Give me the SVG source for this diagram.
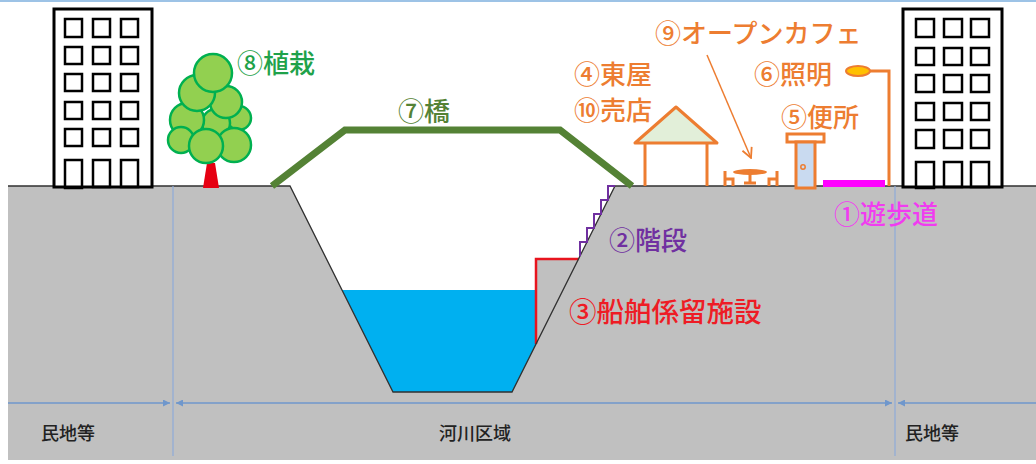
<svg xmlns="http://www.w3.org/2000/svg" width="1036" height="464" viewBox="0 0 1036 464">
  <defs>
    <style>
      .lbl { font-family: "Noto Sans CJK JP", "Noto Sans", sans-serif; font-size: 26px; font-weight: 500; }
      .big { font-size: 27.5px; }
      .dim { font-family: "Noto Sans CJK JP", "Noto Sans", sans-serif; font-size: 18px; font-weight: 500; fill: #222; text-anchor: middle; }
      .bldg { fill: #ffffff; stroke: #000; stroke-width: 3; }
      .win { fill: none; stroke: #000; stroke-width: 2.5; }
      .leaf { fill: #92d050; stroke: #00b050; stroke-width: 2.5; }
      .orng { fill: none; stroke: #ed7d31; stroke-width: 3; }
      .dimline { stroke: #6f97cc; stroke-width: 1.5; fill: none; }
      .tick { stroke: #8eaad8; stroke-width: 1.2; }
    </style>
    <marker id="dimhead" viewBox="0 0 10 10" refX="10" refY="5" markerWidth="7" markerHeight="7" orient="auto-start-reverse" markerUnits="userSpaceOnUse">
      <path d="M0,0 L10,5 L0,10 z" fill="#6f97cc"/>
    </marker>
    <marker id="openhead" viewBox="0 0 12 12" refX="11" refY="6" markerWidth="12" markerHeight="12" orient="auto" markerUnits="userSpaceOnUse">
      <path d="M1,1 L11,6 L1,11" fill="none" stroke="#ed7d31" stroke-width="1.8"/>
    </marker>
  </defs>

  <rect width="1036" height="464" fill="#ffffff"/>
  <line x1="0" y1="1" x2="1036" y2="1" stroke="#9dc3e6" stroke-width="2"/>

  <!-- ground and river channel -->
  <g id="ground">
    <path d="M8,186 L290,186 L393,392 L512,392 L615,186 L1036,186 L1036,460 L8,460 z" fill="#c0c0c0"/>
    <!-- water -->
    <path d="M342,290 L536,290 L536,344 L512,392 L393,392 z" fill="#00b0f0"/>
    <!-- mooring wall -->
    <path d="M536,344 L536,259 L578.5,259 z" fill="#c0c0c0"/>
    <path d="M536,344 L536,259 L578.5,259" fill="none" stroke="#e8141e" stroke-width="2.5"/>
    <path d="M8,186 L290,186 L393,392 L512,392 L615,186 L1036,186" fill="none" stroke="#303030" stroke-width="1.3"/>
    <line class="tick" x1="173" y1="186" x2="173" y2="456"/>
    <line class="tick" x1="895" y1="186" x2="895" y2="456"/>
  </g>

  <!-- stairs -->
  <g id="stairs">
    <path d="M580,256 L580,242 L587,242 L587,228 L594,228 L594,214 L601,214 L601,200 L608,200 L608,186 L615,186" fill="none" stroke="#7030a0" stroke-width="2"/>
    <text class="lbl" x="609" y="250" fill="#7030a0">②階段</text>
  </g>

  <g id="mooring-label">
    <text class="lbl big" x="569" y="322" fill="#ee1c25">③船舶係留施設</text>
  </g>

  <!-- left building -->
  <g id="building-left">
    <rect class="bldg" x="54" y="9" width="98" height="178"/>
    <g class="win">
      <rect x="65" y="19" width="17" height="18"/><rect x="93" y="19" width="17" height="18"/><rect x="121" y="19" width="17" height="18"/>
      <rect x="65" y="47" width="17" height="17"/><rect x="93" y="47" width="17" height="17"/><rect x="121" y="47" width="17" height="17"/>
      <rect x="65" y="74" width="17" height="17"/><rect x="93" y="74" width="17" height="17"/><rect x="121" y="74" width="17" height="17"/>
      <rect x="65" y="102" width="17" height="17"/><rect x="93" y="102" width="17" height="17"/><rect x="121" y="102" width="17" height="17"/>
      <rect x="65" y="129" width="17" height="17"/><rect x="93" y="129" width="17" height="17"/><rect x="121" y="129" width="17" height="17"/>
      <rect x="65" y="160" width="17" height="28"/><rect x="93" y="160" width="17" height="27"/><rect x="121" y="160" width="17" height="27"/>
    </g>
  </g>

  <!-- right building -->
  <g id="building-right">
    <rect class="bldg" x="903" y="9" width="99" height="178"/>
    <g class="win">
      <rect x="916" y="19" width="18" height="18"/><rect x="944" y="19" width="18" height="18"/><rect x="971" y="19" width="18" height="18"/>
      <rect x="916" y="48" width="18" height="17"/><rect x="944" y="48" width="18" height="17"/><rect x="971" y="48" width="18" height="17"/>
      <rect x="916" y="75" width="18" height="17"/><rect x="944" y="75" width="18" height="17"/><rect x="971" y="75" width="18" height="17"/>
      <rect x="916" y="103" width="18" height="17"/><rect x="944" y="103" width="18" height="17"/><rect x="971" y="103" width="18" height="17"/>
      <rect x="916" y="130" width="18" height="18"/><rect x="944" y="130" width="18" height="18"/><rect x="971" y="130" width="18" height="18"/>
      <rect x="916" y="162" width="18" height="26"/><rect x="944" y="162" width="18" height="25"/><rect x="971" y="162" width="18" height="25"/>
    </g>
  </g>

  <!-- planting -->
  <g id="tree">
    <path d="M207,163 L215,163 L219,188 L203,188 z" fill="#e60012"/>
    <circle class="leaf" cx="239" cy="118" r="12"/>
    <circle class="leaf" cx="216" cy="123" r="14"/>
    <circle class="leaf" cx="187" cy="120" r="17"/>
    <circle class="leaf" cx="226" cy="102" r="16"/>
    <circle class="leaf" cx="197" cy="93" r="18"/>
    <circle class="leaf" cx="213" cy="73" r="19"/>
    <circle class="leaf" cx="181" cy="140" r="13"/>
    <circle class="leaf" cx="234" cy="145" r="17"/>
    <circle class="leaf" cx="206" cy="146" r="17"/>
    <text class="lbl" x="237" y="73" fill="#1fa24a">⑧植栽</text>
  </g>

  <!-- bridge -->
  <g id="bridge">
    <polyline points="272,186 345,130 560,130 632,186" fill="none" stroke="#548235" stroke-width="7" stroke-linejoin="miter"/>
    <text class="lbl" x="398" y="121" fill="#548235">⑦橋</text>
  </g>

  <!-- arbor / shop -->
  <g id="arbor">
    <path d="M635,143 L676,107 L717,143 z" fill="#e2efd9" stroke="#ed7d31" stroke-width="3" stroke-linejoin="round"/>
    <line class="orng" x1="645" y1="143" x2="645" y2="186"/>
    <line class="orng" x1="707" y1="143" x2="707" y2="186"/>
    <text class="lbl" x="574" y="84" fill="#ed7d31">④東屋</text>
    <text class="lbl" x="574" y="120" fill="#ed7d31">⑩売店</text>
  </g>

  <!-- open cafe -->
  <g id="cafe">
    <ellipse cx="750" cy="172" rx="17" ry="3" fill="#ed7d31"/>
    <line class="orng" x1="750" y1="172" x2="750" y2="182"/>
    <line class="orng" x1="744" y1="183" x2="756" y2="183"/>
    <path class="orng" d="M725,171 L725,186 M725,179 L733,179 L733,186" stroke-width="2.5"/>
    <path class="orng" d="M777,171 L777,186 M777,179 L769,179 L769,186" stroke-width="2.5"/>
    <text class="lbl" x="655" y="43" fill="#ed7d31" font-size="25.5">⑨オープンカフェ</text>
  </g>

  <!-- toilet -->
  <g id="toilet">
    <rect x="787" y="134" width="37" height="8" fill="#ffffff" stroke="#ed7d31" stroke-width="3"/>
    <rect x="796" y="142" width="19" height="46" fill="#c9daf0" stroke="#ed7d31" stroke-width="3"/>
    <circle cx="803" cy="167" r="2.2" fill="none" stroke="#ed7d31" stroke-width="1.5"/>
    <text class="lbl" x="781" y="127" fill="#ed7d31">⑤便所</text>
  </g>

  <!-- lighting -->
  <g id="light">
    <polyline class="orng" points="870,71 889,71 889,186"/>
    <ellipse cx="858" cy="71" rx="12" ry="5" fill="#ffc000" stroke="#ed7d31" stroke-width="2"/>
    <text class="lbl" x="754" y="84" fill="#ed7d31">⑥照明</text>
  </g>

  <!-- promenade -->
  <g id="promenade">
    <rect x="823" y="180" width="62" height="7" fill="#ff00ff"/>
    <text class="lbl" x="834" y="224" fill="#f03cf0" font-size="28">①遊歩道</text>
  </g>

  <!-- connectors -->
  <g id="connectors">
    <line x1="707" y1="55" x2="751" y2="158" stroke="#ed7d31" stroke-width="1.5" marker-end="url(#openhead)"/>
    <line class="dimline" x1="8" y1="403" x2="170" y2="403" marker-end="url(#dimhead)"/>
    <line class="dimline" x1="176" y1="403" x2="892" y2="403" marker-start="url(#dimhead)" marker-end="url(#dimhead)"/>
    <line class="dimline" x1="898" y1="403" x2="1036" y2="403" marker-start="url(#dimhead)"/>
  </g>

  <!-- zone labels -->
  <g id="zones">
    <text class="dim" x="68" y="440">民地等</text>
    <text class="dim" x="475" y="440">河川区域</text>
    <text class="dim" x="932" y="440">民地等</text>
  </g>
</svg>
